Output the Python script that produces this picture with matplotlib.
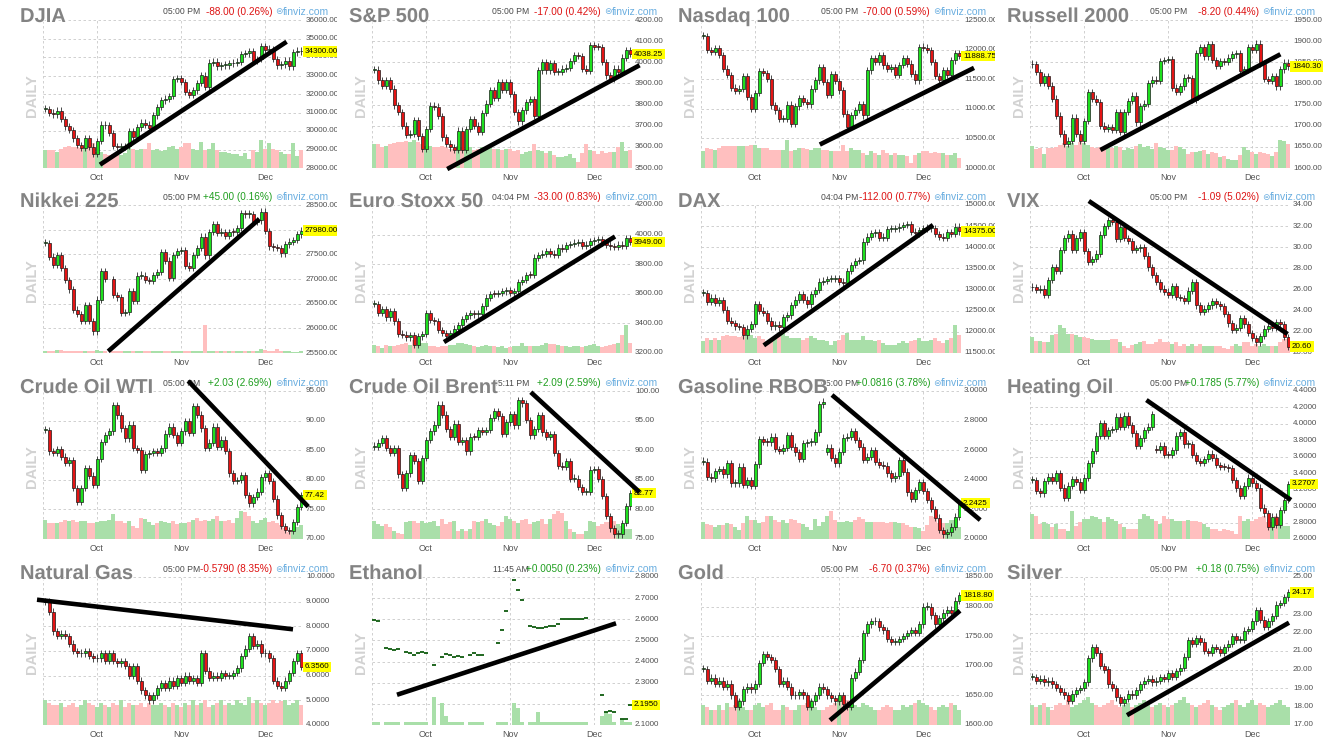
import numpy as np
import matplotlib.pyplot as plt
import matplotlib.patheffects as pe

plt.rcParams['font.family'] = ['Liberation Sans', 'DejaVu Sans']
nan = np.nan

W, H = 1338, 747
COL_LEFT = [43, 372, 701, 1030]
ROW_TOP = [20, 205, 391, 577]
PW, PH = 260, 148

months = ['Oct', 'Nov', 'Dec']
month_idx = [13, 34, 55]

# ---- closes / relative volumes, one candle per trading day ----
djia_close = [31200, 31000, 30900, 31100, 30650, 30250, 30050, 29600, 29250, 29100,
              29600, 29150, 28750, 29450, 30350, 30300, 29900, 29200, 29150, 29150,
              29200, 30000, 29650, 30200, 30450, 30350, 30150, 30850, 31300, 31650,
              31750, 31900, 32800, 32850, 32650, 32100, 31950, 32200, 32600, 33000,
              32400, 33700, 33750, 33500, 33550, 33550, 33650, 33700, 33750, 34150,
              34200, 34300, 33800, 33900, 34600, 34400, 34400, 33900, 33550, 33600,
              33800, 33500, 34250, 34350, 34300]
djia_vol = [50, 52, 50, 45, 55, 60, 62, 60, 60, 58, 60, 62, 70, 45, 45, 40, 38, 40, 42, 38,
            42, 70, 55, 50, 55, 55, 70, 52, 55, 48, 50, 60, 62, 55, 60, 70, 72, 55, 50, 75,
            50, 55, 70, 50, 45, 45, 42, 40, 40, 35, 42, 25, 50, 45, 80, 55, 70, 55, 50, 45,
            40, 40, 70, 35, 50]

sp_close = [3965, 3915, 3890, 3915, 3875, 3796, 3764, 3700, 3658, 3660,
            3728, 3650, 3590, 3685, 3795, 3790, 3745, 3645, 3615, 3598,
            3585, 3677, 3585, 3685, 3730, 3700, 3670, 3760, 3805, 3867,
            3830, 3907, 3870, 3906, 3851, 3764, 3721, 3772, 3812, 3827,
            3748, 3962, 4002, 3962, 3997, 3954, 3954, 3970, 3975, 4007,
            4034, 4029, 3970, 3959, 4081, 4073, 4072, 4002, 3938, 3923,
            3970, 3954, 4022, 4057, 4038.25]
sp_vol = [65, 65, 55, 60, 65, 68, 70, 70, 72, 70, 75, 70, 65, 60, 60, 55, 55, 58, 55, 50,
          50, 60, 55, 52, 55, 48, 50, 55, 52, 55, 50, 52, 48, 50, 50, 45, 48, 38, 42, 45,
          65, 48, 45, 40, 45, 35, 30, 30, 32, 38, 28, 15, 40, 65, 48, 45, 38, 45, 40, 42,
          42, 55, 70, 45, 48]

ndx_close = [12228, 11990, 11960, 12020, 11906, 11680, 11567, 11357, 11300, 11340,
             11550, 11200, 11000, 11270, 11635, 11606, 11510, 11060, 10973, 10830,
             10830, 11070, 10750, 11040, 11180, 11115, 11075, 11340, 11480, 11710,
             11450, 11230, 11585, 11470, 11310, 10920, 10690, 10890, 10980, 11085,
             10890, 11650, 11850, 11790, 11905, 11735, 11680, 11700, 11570, 11740,
             11850, 11765, 11595, 11480, 12045, 12035, 11990, 11790, 11550, 11480,
             11650, 11570, 11820, 11945, 11888.75]
ndx_vol = [50, 60, 58, 55, 60, 65, 65, 65, 65, 65, 65, 68, 70, 70, 60, 60, 60, 55, 55, 55,
           55, 85, 50, 55, 60, 60, 58, 55, 60, 60, 55, 55, 50, 50, 50, 70, 50, 60, 55, 55,
           45, 40, 50, 45, 40, 55, 45, 40, 45, 40, 40, 35, 15, 40, 45, 50, 50, 45, 48, 45,
           45, 40, 40, 45, 30]

rut_close = [1845, 1827, 1801, 1817, 1795, 1764, 1724, 1681, 1657, 1665,
             1719, 1681, 1665, 1711, 1780, 1764, 1756, 1700, 1693, 1697,
             1690, 1732, 1685, 1732, 1758, 1771, 1708, 1746, 1752, 1800,
             1809, 1806, 1853, 1855, 1857, 1790, 1780, 1793, 1814, 1812,
             1761, 1872, 1886, 1864, 1893, 1855, 1841, 1853, 1851, 1861,
             1869, 1871, 1830, 1833, 1886, 1879, 1894, 1847, 1811, 1806,
             1817, 1793, 1833, 1849, 1840.30]
rut_vol = [62, 55, 58, 40, 58, 58, 60, 65, 72, 62, 72, 65, 75, 72, 65, 60, 58, 60, 60, 58,
           58, 62, 60, 50, 58, 55, 62, 68, 60, 62, 55, 70, 60, 58, 50, 52, 62, 60, 55, 40,
           45, 45, 48, 50, 40, 45, 42, 30, 35, 25, 22, 22, 38, 60, 50, 45, 40, 45, 42, 40,
           35, 45, 80, 78, 68]

nikkei_close = [27725, 27455, 27287, 27490, 27220, 26980, 26790, 26380, 26290, 26155,
                26465, 26150, 25940, 26580, 27165, 27000, nan, 26680, 26630, 26310,
                26330, 26760, 26560, 27070, 27070, 26980, 26960, 27085, 27140, 27545,
                27370, 27030, 27490, 27570, 27590, 27270, 27230, 27490, 27625, 27860,
                27480, 27950, 28110, 27940, 27950, 27880, 27950, 27945, 28030, 28330,
                28310, 28310, 28160, 28190, 28365, 27975, 27660, 27640, 27625, 27520,
                27700, 27760, 27790, 27905, 27980]
nikkei_vol = [5, 5, 6, 8, 8, 7, 6, 6, 6, 6, 5, 5, 6, 8, 6, 6, 0, 6, 5, 6,
              6, 6, 5, 6, 6, 6, 6, 5, 6, 6, 6, 5, 6, 5, 6, 5, 6, 6, 5, 5,
              80, 6, 6, 5, 6, 5, 5, 5, 5, 5, 6, 6, 5, 6, 10, 8, 6, 5, 10, 6,
              6, 5, 4, 4, 5]

stoxx_close = [3530, 3470, 3497, 3440, 3481, 3413, 3328, 3324, 3306, 3319,
               3256, 3312, 3330, 3470, 3424, 3413, 3357, 3335, 3312, 3335,
               3364, 3387, 3431, 3454, 3467, 3461, 3463, 3515, 3575, 3600,
               3598, 3607, 3616, 3627, 3605, 3620, 3679, 3695, 3728, 3727,
               3845, 3862, 3872, 3890, 3868, 3865, 3912, 3905, 3930, 3935,
               3945, 3950, 3925, 3932, 3955, 3963, 3969, 3948, 3933, 3920,
               3915, 3932, 3925, 3975, 3949]
stoxx_vol = [25, 20, 15, 25, 20, 22, 25, 28, 30, 25, 38, 25, 30, 30, 20, 22, 18, 20, 22, 25,
             25, 30, 30, 28, 25, 22, 18, 22, 24, 22, 20, 18, 20, 15, 18, 20, 22, 30, 22, 22,
             20, 20, 25, 30, 28, 28, 25, 20, 22, 18, 22, 20, 18, 22, 25, 28, 22, 18, 20, 25,
             28, 30, 55, 85, 30]

dax_close = [12915, 12705, 12812, 12680, 12750, 12525, 12263, 12208, 12130, 12110,
             11917, 12074, 12185, 12656, 12500, 12444, 12263, 12130, 12170, 12106,
             12342, 12390, 12640, 12760, 12890, 12760, 12650, 12900, 12990, 13190,
             13200, 13250, 13250, 13270, 13190, 13150, 13440, 13580, 13680, 13690,
             14135, 14250, 14330, 14355, 14230, 14230, 14430, 14435, 14450, 14490,
             14530, 14540, 14370, 14330, 14410, 14450, 14450, 14450, 14310, 14250,
             14230, 14350, 14310, 14490, 14375]
dax_vol = [35, 45, 40, 45, 38, 50, 55, 50, 50, 48, 50, 55, 55, 45, 50, 42, 35, 40, 42, 55,
           60, 50, 45, 45, 45, 40, 45, 50, 45, 40, 40, 35, 25, 35, 40, 55, 60, 40, 40, 40,
           50, 40, 40, 35, 38, 30, 25, 25, 25, 30, 35, 30, 35, 40, 45, 35, 35, 40, 45, 35,
           30, 40, 45, 85, 55]

vix_close = [26.2, 26.0, 26.1, 25.5, 26.9, 28.1, 27.8, 29.75, 30.85, 31.3,
             29.75, 30.9, 31.4, 29.65, 28.6, 28.9, 29.4, 31.2, 32.0, 32.6,
             32.4, 30.8, 31.9, 30.9, 30.6, 29.75, 29.9, 30.0, 29.2, 28.1,
             27.4, 26.7, 26.1, 25.8, 25.5, 26.3, 25.3, 25.2, 24.9, 25.9,
             26.7, 24.5, 23.9, 24.2, 24.5, 24.9, 24.6, 24.4, 23.7, 22.8,
             22.2, 22.4, 23.3, 22.7, 21.9, 21.4, 21.0, 21.6, 22.3, 22.6,
             22.4, 22.9, 22.7, 21.5, 20.60]
vix_vol = [45, 35, 35, 30, 30, 50, 55, 80, 70, 55, 55, 52, 45, 45, 42, 40, 38, 38, 38, 38,
           40, 40, 30, 20, 15, 22, 25, 30, 35, 25, 25, 30, 40, 30, 30, 25, 30, 20, 25, 20,
           25, 20, 25, 20, 20, 20, 20, 20, 15, 10, 20, 25, 20, 30, 30, 20, 25, 20, 25, 20,
           20, 20, 30, 40, 40]

wti_close = [88.4, 84.8, 84.6, 85.2, 83.9, 82.8, 83.3, 78.6, 76.3, 78.6,
             82.0, 80.7, 79.2, 83.5, 86.4, 87.5, 88.2, 92.6, 90.9, 88.7,
             87.0, 89.3, 85.4, 85.0, 81.7, 84.3, 84.5, 84.9, 84.6, 85.3,
             87.8, 89.0, 87.6, 86.3, 88.2, 89.9, 87.9, 92.5, 91.0, 88.7,
             85.4, 86.3, 89.0, 85.5, 86.8, 84.9, 81.1, 79.8, 80.0, 80.8,
             77.4, 76.0, 77.1, 78.0, 80.4, 81.1, 79.8, 76.8, 74.0, 72.2,
             71.5, 71.4, 72.9, 75.4, 77.42]
wti_vol = [55, 45, 45, 45, 48, 55, 50, 55, 48, 50, 50, 45, 45, 48, 50, 52, 55, 70, 50, 52,
           45, 50, 38, 30, 60, 58, 48, 40, 45, 50, 48, 45, 50, 42, 45, 45, 48, 55, 60, 50,
           55, 50, 58, 65, 52, 50, 55, 45, 60, 80, 78, 65, 50, 45, 55, 60, 48, 50, 45, 40,
           30, 20, 25, 35, 40]

brent_close = [90.6, 91.3, 92.0, 90.4, 89.5, 90.3, 85.9, 83.6, 86.1, 89.2,
               88.2, 84.8, 88.7, 91.7, 93.2, 94.3, 97.7, 96.0, 93.6, 92.3,
               94.5, 91.4, 91.7, 89.8, 92.3, 92.2, 93.4, 93.1, 93.4, 95.5,
               96.6, 95.7, 92.7, 94.7, 96.1, 94.2, 98.5, 97.9, 95.1, 92.5,
               93.6, 95.9, 93.0, 92.3, 92.7, 89.5, 87.4, 87.2, 88.2, 85.2,
               85.2, 83.8, 82.9, 83.0, 86.7, 86.8, 85.1, 82.3, 78.9, 76.8,
               75.8, 75.8, 77.7, 80.5, 82.77]
brent_vol = [55, 45, 40, 45, 35, 25, 18, 15, 50, 55, 55, 48, 55, 48, 50, 55, 40, 60, 45, 50,
             55, 25, 30, 25, 30, 55, 50, 55, 60, 48, 42, 40, 50, 70, 60, 55, 48, 58, 60, 45,
             50, 55, 60, 45, 60, 75, 85, 80, 55, 30, 20, 15, 15, 25, 55, 50, 40, 45, 50, 50,
             55, 45, 40, 30, 30]

gas_close = [2.523, 2.421, 2.410, 2.460, 2.473, 2.437, 2.511, 2.376, 2.376, 2.489,
             2.365, 2.399, 2.360, 2.505, 2.676, 2.658, 2.653, 2.692, 2.608, 2.595,
             2.617, 2.703, 2.624, 2.586, 2.541, 2.646, 2.653, 2.658, 2.721, 2.910,
             2.928, 2.617, 2.550, 2.511, 2.590, 2.685, 2.690, 2.730, 2.669, 2.624,
             2.534, 2.556, 2.601, 2.523, 2.500, 2.496, 2.444, 2.410, 2.428, 2.534,
             2.455, 2.315, 2.270, 2.331, 2.383, 2.324, 2.264, 2.203, 2.144, 2.061,
             2.032, 2.045, 2.083, 2.151, 2.2425]
gas_vol = [55, 48, 45, 40, 45, 45, 50, 48, 40, 30, 50, 75, 60, 60, 50, 55, 75, 75, 60, 55,
           62, 50, 65, 60, 50, 48, 38, 30, 65, 42, 55, 75, 90, 60, 55, 55, 58, 55, 60, 70,
           65, 55, 55, 55, 55, 55, 50, 55, 55, 50, 50, 45, 40, 40, 35, 25, 45, 75, 70, 50,
           50, 50, 60, 60, 40]
gas_gaps = {31: 2.590}

heat_close = [3.318, 3.184, 3.155, 3.305, 3.358, 3.306, 3.398, 3.224, 3.103, 3.249,
              3.330, 3.297, 3.196, 3.346, 3.520, 3.670, 3.857, 4.007, 3.857, 3.926,
              3.940, 4.088, 3.966, 4.100, 3.986, 3.885, 3.735, 3.824, 3.926, 3.966,
              4.116, 3.682, 3.735, 3.625, 3.622, 3.678, 3.857, 3.897, 3.751, 3.755,
              3.622, 3.549, 3.529, 3.573, 3.638, 3.589, 3.500, 3.480, 3.475, 3.460,
              3.318, 3.216, 3.128, 3.249, 3.346, 3.277, 3.224, 2.981, 2.912, 2.750,
              2.872, 2.770, 2.953, 3.074, 3.2707]
heat_vol = [75, 70, 45, 50, 45, 35, 45, 30, 30, 25, 85, 40, 50, 60, 60, 70, 65, 60, 50, 65,
            60, 55, 45, 35, 30, 30, 30, 60, 75, 70, 60, 55, 45, 70, 60, 60, 55, 55, 55, 58,
            55, 55, 50, 45, 35, 30, 30, 25, 30, 28, 25, 15, 70, 55, 60, 55, 60, 65, 70, 50,
            50, 70, 45, 40, 40]
heat_gaps = {31: 3.700}

ng_close = [9.0, 8.6, 7.8, 7.6, 7.7, 7.6, 7.3, 7.0, 6.9, 6.9,
            7.0, 6.8, 6.7, 6.7, 6.9, 6.6, 6.9, 6.6, 6.5, 6.6,
            6.4, 6.0, 6.4, 5.8, 5.4, 5.2, 5.0, 5.2, 5.5, 5.7,
            5.5, 5.8, 5.6, 5.9, 5.7, 6.0, 5.8, 5.9, 5.7, 6.9,
            6.2, 5.9, 6.0, 5.9, 6.1, 6.0, 6.0, 6.1, 6.3, 6.8,
            7.1, 7.6, 7.2, 7.3, 6.9, 6.9, 6.7, 5.8, 5.6, 5.5,
            5.8, 6.1, 6.6, 6.9, 6.356]
ng_vol = [25, 22, 20, 20, 22, 18, 20, 22, 18, 20, 25, 22, 20, 18, 22, 20, 18, 22, 20, 25,
          18, 22, 20, 20, 22, 18, 22, 20, 20, 22, 20, 18, 22, 20, 18, 22, 20, 25, 20, 22,
          25, 18, 20, 22, 25, 20, 22, 20, 25, 22, 20, 28, 22, 25, 22, 20, 22, 25, 22, 24,
          25, 20, 22, 25, 20]

eth_close = [2.595, 2.59, nan, 2.465, 2.46, 2.455, 2.46, nan, 2.445, 2.44,
             2.43, 2.44, 2.445, 2.44, nan, 2.385, nan, 2.42, 2.435, 2.43,
             2.42, 2.425, 2.42, nan, 2.43, 2.44, 2.43, 2.43, nan, nan,
             nan, 2.49, 2.55, 2.64, nan, 2.785, 2.74, 2.69, nan, 2.57,
             2.565, 2.56, 2.56, 2.565, 2.57, 2.57, 2.58, 2.6, 2.6, 2.6,
             2.6, 2.6, 2.6, 2.605, nan, nan, nan, 2.24, 2.16, 2.165,
             2.16, nan, 2.13, 2.13, 2.195]
eth_vol = [3, 3, 0, 3, 3, 3, 3, 0, 3, 3, 3, 3, 3, 3, 0, 25, 0, 20, 8, 3,
           3, 3, 3, 0, 3, 3, 3, 3, 0, 0, 0, 3, 3, 3, 0, 20, 15, 3, 0, 3,
           3, 12, 3, 3, 3, 3, 3, 3, 3, 3, 3, 3, 3, 3, 0, 0, 0, 8, 12, 10,
           3, 0, 5, 3, 3]

gold_close = [1695, 1675, 1680, 1670, 1675, 1665, 1670, 1650, 1630, 1640,
              1660, 1665, 1660, 1670, 1705, 1720, 1715, 1710, 1695, 1670,
              1675, 1665, 1650, 1650, 1655, 1650, 1630, 1640, 1650, 1665,
              1660, 1650, 1645, 1640, 1650, 1635, 1630, 1680, 1690, 1710,
              1755, 1770, 1775, 1775, 1765, 1760, 1745, 1740, 1740, 1745,
              1750, 1755, 1760, 1755, 1770, 1800, 1800, 1785, 1770, 1780,
              1790, 1795, 1790, 1810, 1818.80]
gold_vol = [20, 18, 15, 15, 20, 15, 22, 18, 20, 25, 18, 15, 15, 20, 22, 18, 20, 22, 15, 15,
            20, 18, 15, 15, 20, 20, 22, 25, 18, 15, 15, 18, 20, 22, 25, 28, 25, 22, 20, 18,
            22, 20, 18, 15, 15, 18, 20, 18, 15, 15, 20, 18, 20, 22, 25, 22, 20, 18, 15, 18,
            20, 18, 22, 20, 15]

silver_close = [19.6, 19.4, 19.5, 19.3, 19.4, 19.2, 19.0, 18.8, 18.6, 18.3,
                18.7, 18.9, 19.0, 19.3, 20.6, 21.2, 20.9, 20.2, 20.0, 19.2,
                19.0, 18.5, 18.2, 18.4, 18.7, 18.6, 18.9, 19.2, 19.4, 19.5,
                19.3, 19.4, 19.6, 19.5, 19.8, 19.6, 19.9, 20.1, 20.7, 21.6,
                21.4, 21.7, 21.5, 21.0, 20.9, 21.2, 21.1, 20.9, 21.2, 21.4,
                21.8, 21.6, 21.6, 22.1, 22.2, 22.6, 23.2, 22.7, 22.3, 22.6,
                22.9, 23.5, 23.6, 23.9, 24.17]
silver_vol = [20, 18, 20, 22, 18, 15, 20, 22, 20, 25, 18, 20, 22, 25, 28, 22, 20, 18, 20, 22,
              25, 20, 18, 20, 22, 18, 20, 22, 25, 20, 18, 20, 22, 20, 18, 20, 22, 25, 28, 22,
              20, 18, 20, 22, 25, 20, 18, 15, 18, 20, 22, 25, 20, 18, 22, 25, 20, 22, 20, 18,
              20, 22, 25, 20, 18]

# ---- panel descriptions ----
panels = [
    dict(name='DJIA', time='05:00 PM', chg='-88.00 (0.26%)', close=djia_close, vol=djia_vol,
         ticks=(28000, 36000, 1000), dec=2, trend=[(13.75, 28181), (60.4, 34824)]),
    dict(name='S&P 500', time='05:00 PM', chg='-17.00 (0.42%)', close=sp_close, vol=sp_vol,
         ticks=(3500, 4200, 100), dec=2, trend=[(18.3, 3495), (66.4, 3986)]),
    dict(name='Nasdaq 100', time='05:00 PM', chg='-70.00 (0.59%)', close=ndx_close, vol=ndx_vol,
         ticks=(10000, 12500, 500), dec=2, trend=[(29.2, 10396), (67.75, 11691)]),
    dict(name='Russell 2000', time='05:00 PM', chg='-8.20 (0.44%)', close=rut_close, vol=rut_vol,
         ticks=(1600, 1950, 50), dec=2, trend=[(17.1, 1642.6), (62.1, 1869)]),
    dict(name='Nikkei 225', time='05:00 PM', chg='+45.00 (0.16%)', close=nikkei_close, vol=nikkei_vol,
         ticks=(25500, 28500, 500), dec=2, trend=[(15.8, 25534), (53.6, 28217)]),
    dict(name='Euro Stoxx 50', time='04:04 PM', chg='-33.00 (0.83%)', close=stoxx_close, vol=stoxx_vol,
         ticks=(3200, 4200, 200), dec=2, trend=[(17.5, 3274), (60.25, 3987)]),
    dict(name='DAX', time='04:04 PM', chg='-112.00 (0.77%)', close=dax_close, vol=dax_vol,
         ticks=(11500, 15000, 500), dec=2, trend=[(15.2, 11681), (57.5, 14528)]),
    dict(name='VIX', time='05:00 PM', chg='-1.09 (5.02%)', close=vix_close, vol=vix_vol,
         ticks=(20, 34, 2), dec=2, trend=[(14.2, 34.38), (63.9, 21.79)]),
    dict(name='Crude Oil WTI', time='05:00 PM', chg='+2.03 (2.69%)', close=wti_close, vol=wti_vol,
         ticks=(70, 95, 5), dec=2, trend=[(35.8, 96.7), (65.8, 75.46)]),
    dict(name='Crude Oil Brent', time='05:11 PM', chg='+2.09 (2.59%)', close=brent_close, vol=brent_vol,
         ticks=(75, 100, 5), dec=2, trend=[(39.2, 99.8), (66.4, 82.9)]),
    dict(name='Gasoline RBOB', time='05:00 PM', chg='+0.0816 (3.78%)', close=gas_close, vol=gas_vol,
         ticks=(2.0, 3.0, 0.2), dec=4, trend=[(32.25, 2.973), (69.3, 2.128)], gaps=gas_gaps),
    dict(name='Heating Oil', time='05:00 PM', chg='+0.1785 (5.77%)', close=heat_close, vol=heat_vol,
         ticks=(2.6, 4.4, 0.2), dec=4, trend=[(28.6, 4.29), (64.75, 3.074)], gaps=heat_gaps),
    dict(name='Natural Gas', time='05:00 PM', chg='-0.5790 (8.35%)', close=ng_close, vol=ng_vol,
         ticks=(4, 10, 1), dec=4, trend=[(-2, 9.08), (62, 7.88)]),
    dict(name='Ethanol', time='11:45 AM', chg='+0.0050 (0.23%)', close=eth_close, vol=eth_vol,
         ticks=(2.1, 2.8, 0.1), dec=4, trend=[(5.75, 2.243), (60.5, 2.581)], flat=True),
    dict(name='Gold', time='05:00 PM', chg='-6.70 (0.37%)', close=gold_close, vol=gold_vol,
         ticks=(1600, 1850, 50), dec=2, trend=[(31.75, 1608), (64.25, 1793)]),
    dict(name='Silver', time='05:00 PM', chg='+0.18 (0.75%)', close=silver_close, vol=silver_vol,
         ticks=(17, 25, 1), dec=2, trend=[(23.75, 17.53), (64.25, 22.53)]),
]

UP, DOWN = '#1ee01e', '#e41414'
UP_V, DOWN_V = '#a9dfa9', '#ffbfbf'
GRID = '#c9c9c9'


def fx(x):
    return x / W


def fy(y):
    return 1 - y / H


fig = plt.figure(figsize=(W / 100, H / 100), dpi=100)
fig.patch.set_facecolor('white')

for k, p in enumerate(panels):
    left = COL_LEFT[k % 4]
    top = ROW_TOP[k // 4]
    lo, hi, step = p['ticks']
    ticks = np.round(np.arange(lo, hi + step / 2, step), 6)
    dpp = (hi - lo) / PH
    n = len(p['close'])
    x = np.arange(n)

    # price label strip on the right (clips long labels like the original)
    lax = fig.add_axes([fx(left + PW), fy(top + PH + 8), 34 / W, (PH + 16) / H])
    lax.set_xlim(0, 34)
    lax.set_ylim(lo - 8 * dpp, hi + 8 * dpp)
    lax.axis('off')
    for t in ticks:
        lax.text(3, t, f"{t:.{p['dec']}f}", fontsize=5.8, color='#4f4f4f',
                 va='center', ha='left', clip_on=True)

    ax = fig.add_axes([fx(left), fy(top + PH), PW / W, PH / H])
    ax.set_xlim(-0.5, n - 0.5)
    ax.set_ylim(lo, hi)
    ax.axis('off')
    ax.patch.set_facecolor('none')

    for t in ticks:
        ax.axhline(t, color=GRID, lw=0.6, ls=(0, (3, 3)), zorder=0.5)
    for m in month_idx + [-0.5, n - 0.5]:
        ax.axvline(m, color=GRID, lw=0.6, ls=(0, (3, 3)), zorder=0.5)
    for lab, m in zip(months, month_idx):
        ax.annotate(lab, xy=(m, lo), xytext=(0, -6.5), textcoords='offset points',
                    ha='center', va='center', fontsize=6.5, color='#555555',
                    annotation_clip=False)

    close = np.array(p['close'], float)
    opens = np.full(n, np.nan)
    prev = np.nan
    for i, c in enumerate(close):
        if np.isnan(c):
            continue
        opens[i] = c if (np.isnan(prev) or p.get('flat')) else prev
        prev = c
    for i, o in p.get('gaps', {}).items():
        opens[i] = o

    ok = ~np.isnan(close)
    up = close >= opens
    vol = np.array(p['vol'], float)
    vh = vol / vol.max() * 0.19 * (hi - lo)
    ax.bar(x[ok], vh[ok], bottom=lo, width=1.0, linewidth=0,
           color=[UP_V if u else DOWN_V for u in up[ok]], zorder=1)

    if p.get('flat'):
        ax.hlines(close[ok], x[ok] - 0.45, x[ok] + 0.45, color='#0f5c0f', lw=1.3, zorder=3)
    else:
        body_lo = np.minimum(opens, close)
        body_h = np.maximum(np.abs(close - opens), 0.9 * dpp)
        wick = 0.022 * (hi - lo)
        ax.vlines(x[ok], body_lo[ok] - wick, (body_lo + body_h)[ok] + wick,
                  color='#2a2a2a', lw=0.6, zorder=2)
        ax.bar(x[ok], body_h[ok], bottom=body_lo[ok], width=0.75,
               color=[UP if u else DOWN for u in up[ok]],
               edgecolor='#1a1a1a', linewidth=0.5, zorder=3)

    (x0, y0), (x1, y1) = p['trend']
    ax.plot([x0, x1], [y0, y1], color='black', lw=3.3, solid_capstyle='butt',
            clip_on=False, zorder=6)

    last = close[ok][-1]
    lax.text(2, last, f"{last:.{p['dec']}f}", fontsize=5.8, color='black',
             va='center', ha='left', clip_on=True, zorder=5,
             bbox=dict(boxstyle='square,pad=0.22', fc='#ffff00', ec='none'))

    tf = fig.transFigure
    hy = fy(top - 8)
    ax.text(fx(left + 157), hy, p['time'], transform=tf, ha='right', va='center',
            fontsize=6.2, color='#4a4a4a', zorder=4, clip_on=False)
    ax.text(fx(left + 229), hy, p['chg'], transform=tf, ha='right', va='center',
            fontsize=7.2, color='#1f9e1f' if p['chg'].startswith('+') else '#dd1111',
            zorder=4, clip_on=False)
    ax.text(fx(left + 236), hy, '\u229c', transform=tf, ha='center', va='center',
            fontsize=6.5, color='#6aaee0', zorder=4, clip_on=False,
            family=['DejaVu Sans'])
    ax.text(fx(left + 240), hy, 'finviz.com', transform=tf, ha='left', va='center',
            fontsize=7.5, color='#6aaee0', zorder=4, clip_on=False)
    ax.text(fx(left - 23), fy(top + 2), p['name'], transform=tf, ha='left',
            va='baseline', fontsize=14.5, fontweight='bold', color='#838383',
            zorder=7, clip_on=False,
            path_effects=[pe.withStroke(linewidth=1.5, foreground='white')])
    ax.text(fx(left - 11), fy(top + 76), 'DAILY', transform=tf, ha='center',
            va='center', rotation=90, fontsize=10.5, fontweight='bold',
            color='#d2d2d2', zorder=4, clip_on=False)

fig.savefig('out.png', dpi=100)
